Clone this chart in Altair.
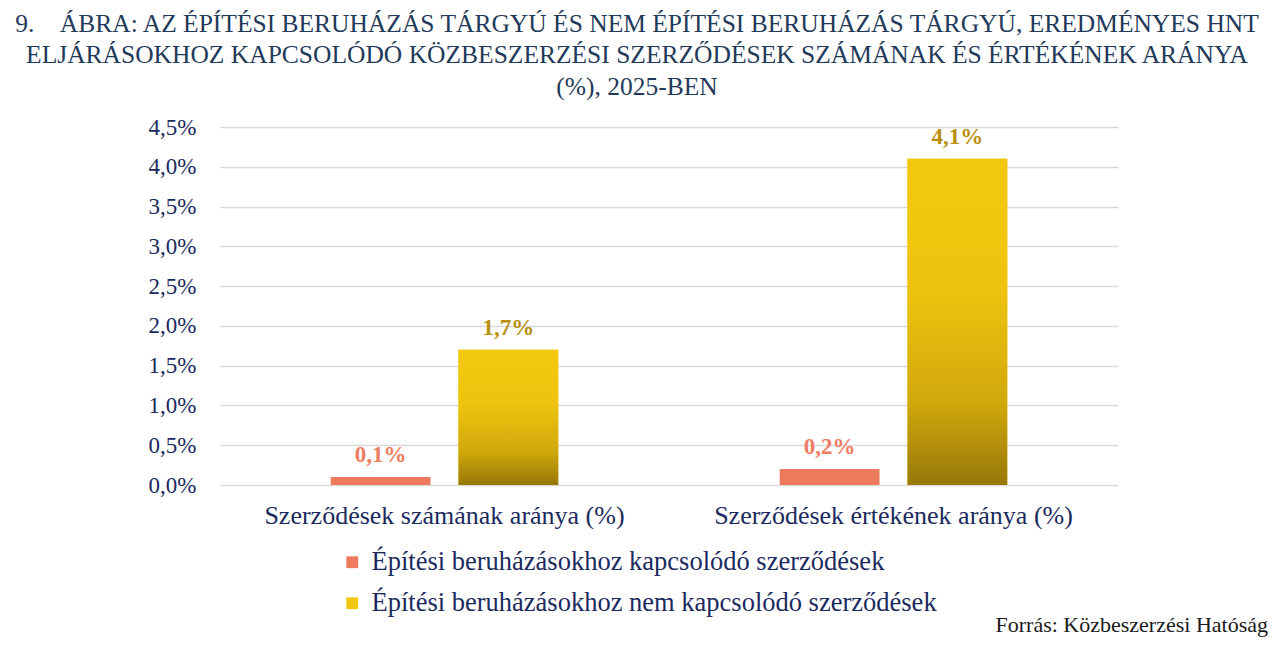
import altair as alt
import pandas as pd

categories = ["Szerződések számának aránya (%)", "Szerződések értékének aránya (%)"]
series = ["Építési beruházásokhoz kapcsolódó szerződések",
          "Építési beruházásokhoz nem kapcsolódó szerződések"]
epitesi = [0.1, 0.2]
nem_epitesi = [1.7, 4.1]
y_ticks = [0, 0.5, 1, 1.5, 2, 2.5, 3, 3.5, 4, 4.5]

bar_colors = ["#EE7A5E", "#F2C80F"]
label_colors = ["#EE7C61", "#B88F0E"]
navy = "#1B2A5E"
FONT = "Liberation Serif"

rows = []
for i, cat in enumerate(categories):
    rows.append({"kat": cat, "sor": series[0], "ertek": epitesi[i], "lc": label_colors[0]})
    rows.append({"kat": cat, "sor": series[1], "ertek": nem_epitesi[i], "lc": label_colors[1]})
data = pd.DataFrame(rows)

title_lines = [
    "9.\u00a0\u00a0\u00a0\u00a0ÁBRA: AZ ÉPÍTÉSI BERUHÁZÁS TÁRGYÚ ÉS NEM ÉPÍTÉSI BERUHÁZÁS TÁRGYÚ, EREDMÉNYES HNT",
    "ELJÁRÁSOKHOZ KAPCSOLÓDÓ KÖZBESZERZÉSI SZERZŐDÉSEK SZÁMÁNAK ÉS ÉRTÉKÉNEK ARÁNYA",
    "(%), 2025-BEN",
]

base = alt.Chart(data)

x_enc = alt.X("kat:N", sort=categories, title=None,
              scale=alt.Scale(paddingInner=0, paddingOuter=0),
              axis=alt.Axis(labelAngle=0, ticks=False, domain=False, grid=False,
                            labelFontSize=26, labelColor=navy, labelFont=FONT,
                            labelPadding=17, labelLimit=500))
xoff = alt.XOffset("sor:N", sort=series,
                   scale=alt.Scale(paddingInner=0.21875, paddingOuter=0.867))
y_enc = alt.Y("ertek:Q", title=None,
              scale=alt.Scale(domain=[0, 4.5], nice=False),
              axis=alt.Axis(values=y_ticks, ticks=False, domain=False,
                            labelExpr="replace(format(datum.value, '.1f'), '.', ',') + '%'",
                            labelFontSize=23, labelColor=navy, labelFont=FONT,
                            labelPadding=24, gridColor="#D9D9D9", gridWidth=1.5))

bars = base.mark_bar().encode(
    x=x_enc, xOffset=xoff, y=y_enc,
    color=alt.Color("sor:N", sort=series, title=None,
                    scale=alt.Scale(domain=series, range=bar_colors),
                    legend=alt.Legend(orient="none", legendX=119, legendY=422,
                                      symbolType="square", symbolSize=140,
                                      symbolStrokeWidth=0,
                                      labelFontSize=26.5, labelColor=navy, labelFont=FONT,
                                      labelLimit=800, rowPadding=14, labelOffset=6)),
)

# gradient overlay for the yellow bars
gradient = alt.Gradient(
    gradient="linear",
    stops=[alt.GradientStop(color="#F3C90F", offset=0),
           alt.GradientStop(color="#EEC30E", offset=0.4),
           alt.GradientStop(color="#D0A80C", offset=0.75),
           alt.GradientStop(color="#977809", offset=1)],
    x1=0, x2=0, y1=0, y2=1,
)
yellow = base.transform_filter(alt.datum.sor == series[1]).mark_bar(fill=gradient).encode(
    x=x_enc, xOffset=xoff, y=y_enc
)

labels = base.transform_calculate(
    cimke="replace(format(datum.ertek, '.1f'), '.', ',') + '%'"
).mark_text(baseline="bottom", dy=-10, fontSize=23, fontWeight="bold", font=FONT).encode(
    x=x_enc, xOffset=xoff, y=y_enc,
    text="cimke:N", color=alt.Color("lc:N", scale=None),
)

source = alt.Chart(pd.DataFrame({"t": ["Forrás: Közbeszerzési Hatóság"]})).mark_text(
    align="right", baseline="alphabetic", fontSize=22, font=FONT, color="#1a1a1a"
).encode(text="t:N", x=alt.value(1048), y=alt.value(505))

chart = alt.layer(bars, yellow, labels, source).properties(
    width=898, height=358,
    padding={"left": 212, "top": 119, "right": 154, "bottom": 152},
    autosize=alt.AutoSizeParams(type="none"),
    title=alt.TitleParams(text=title_lines, anchor="middle", dx=-32, offset=16,
                          fontSize=25.5, font=FONT, fontWeight="normal",
                          color="#1F3A5A", lineHeight=31.5),
).configure_view(stroke=None)

chart.save("out.html", embed_options={"renderer": "svg", "actions": False})
